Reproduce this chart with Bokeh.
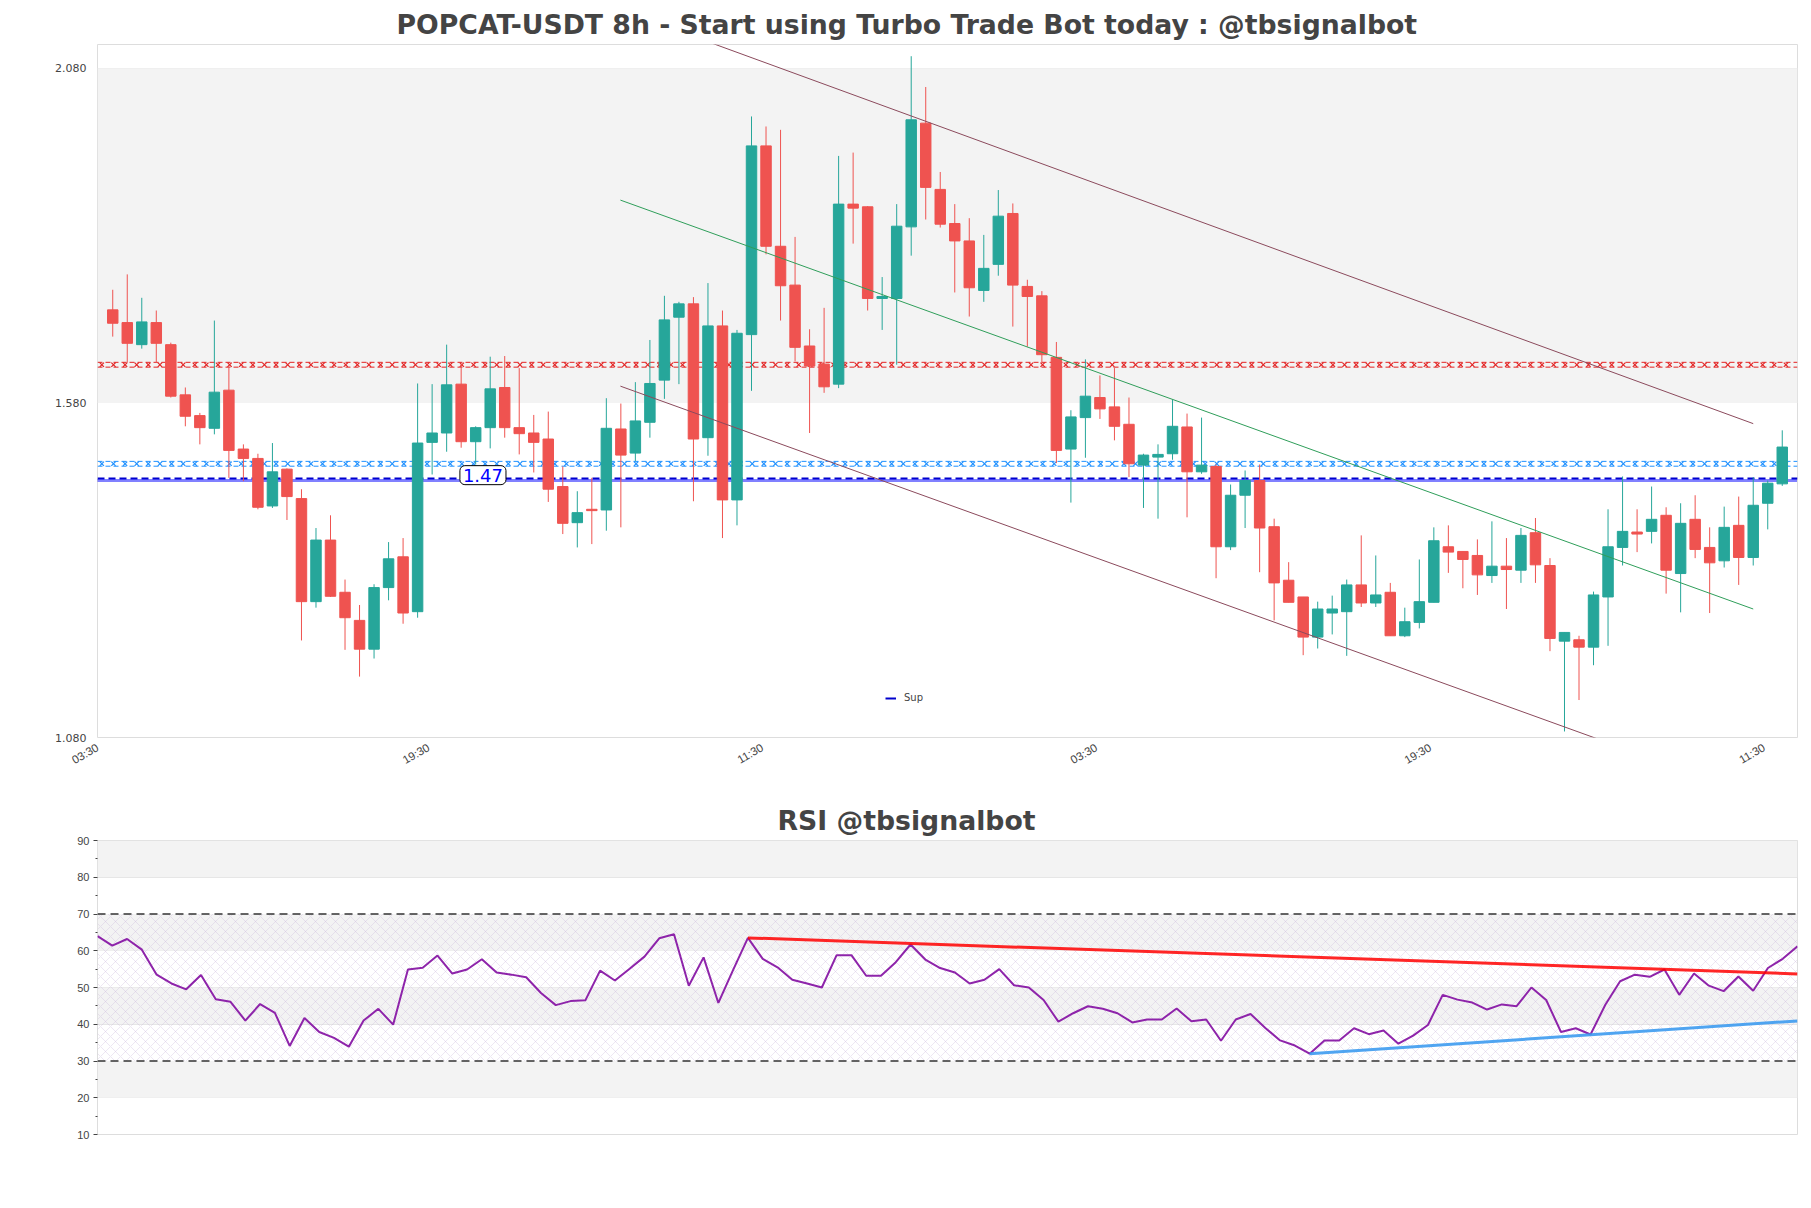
import math
import numpy as np
from bokeh.plotting import figure
from bokeh.layouts import column
from bokeh.models import (ColumnDataSource, FixedTicker, NumeralTickFormatter, BoxAnnotation,
                          Span, Arrow, Label, Legend, LegendItem, Range1d)
from bokeh.embed import file_html
from bokeh.resources import INLINE

# ---------------- data ----------------
open_ = [1.719, 1.700, 1.667, 1.700, 1.667, 1.592, 1.561, 1.542, 1.599, 1.511,
         1.497, 1.426, 1.481, 1.437, 1.283, 1.375, 1.297, 1.255, 1.212, 1.304,
         1.350, 1.268, 1.521, 1.535, 1.608, 1.522, 1.543, 1.603, 1.543, 1.535,
         1.526, 1.455, 1.401, 1.421, 1.420, 1.541, 1.505, 1.551, 1.614, 1.708,
         1.728, 1.528, 1.695, 1.435, 1.682, 1.964, 1.814, 1.756, 1.665, 1.638,
         1.608, 1.877, 1.873, 1.736, 1.736, 1.843, 1.998, 1.899, 1.848, 1.822,
         1.748, 1.787, 1.863, 1.754, 1.740, 1.648, 1.511, 1.558, 1.588, 1.574,
         1.548, 1.487, 1.499, 1.504, 1.544, 1.477, 1.485, 1.365, 1.442, 1.464,
         1.395, 1.315, 1.290, 1.230, 1.266, 1.268, 1.308, 1.281, 1.297, 1.232,
         1.252, 1.282, 1.365, 1.358, 1.352, 1.322, 1.336, 1.330, 1.386, 1.337,
         1.224, 1.226, 1.215, 1.290, 1.364, 1.387, 1.388, 1.412, 1.325, 1.406,
         1.364, 1.344, 1.397, 1.349, 1.430, 1.459]
high = [1.749, 1.772, 1.737, 1.718, 1.670, 1.603, 1.565, 1.703, 1.633, 1.518,
        1.504, 1.520, 1.482, 1.451, 1.393, 1.412, 1.316, 1.278, 1.309, 1.372,
        1.378, 1.609, 1.608, 1.667, 1.638, 1.545, 1.649, 1.650, 1.632, 1.562,
        1.567, 1.485, 1.448, 1.468, 1.587, 1.579, 1.611, 1.674, 1.740, 1.731,
        1.738, 1.759, 1.718, 1.689, 2.008, 1.993, 1.988, 1.828, 1.690, 1.722,
        1.949, 1.954, 1.874, 1.768, 1.877, 2.098, 2.052, 1.925, 1.877, 1.856,
        1.831, 1.898, 1.878, 1.764, 1.747, 1.671, 1.569, 1.645, 1.621, 1.632,
        1.588, 1.504, 1.518, 1.585, 1.564, 1.558, 1.488, 1.458, 1.479, 1.488,
        1.407, 1.342, 1.290, 1.283, 1.292, 1.316, 1.382, 1.352, 1.311, 1.274,
        1.346, 1.394, 1.397, 1.358, 1.376, 1.403, 1.378, 1.393, 1.408, 1.348,
        1.237, 1.232, 1.298, 1.421, 1.470, 1.421, 1.455, 1.424, 1.430, 1.442,
        1.394, 1.425, 1.440, 1.469, 1.464, 1.539]
low = [1.679, 1.640, 1.661, 1.640, 1.588, 1.545, 1.518, 1.533, 1.468, 1.463,
       1.421, 1.423, 1.405, 1.225, 1.274, 1.290, 1.211, 1.171, 1.198, 1.285,
       1.250, 1.259, 1.473, 1.507, 1.513, 1.488, 1.512, 1.528, 1.503, 1.476,
       1.432, 1.384, 1.364, 1.369, 1.389, 1.394, 1.493, 1.528, 1.586, 1.608,
       1.433, 1.501, 1.378, 1.397, 1.598, 1.802, 1.703, 1.642, 1.535, 1.595,
       1.602, 1.818, 1.718, 1.689, 1.637, 1.800, 1.854, 1.842, 1.745, 1.709,
       1.731, 1.770, 1.694, 1.664, 1.640, 1.490, 1.431, 1.498, 1.556, 1.524,
       1.469, 1.423, 1.407, 1.495, 1.409, 1.474, 1.318, 1.360, 1.393, 1.327,
       1.255, 1.282, 1.203, 1.213, 1.234, 1.202, 1.275, 1.275, 1.232, 1.230,
       1.243, 1.282, 1.326, 1.303, 1.293, 1.311, 1.272, 1.311, 1.311, 1.209,
       1.089, 1.136, 1.188, 1.217, 1.337, 1.357, 1.370, 1.295, 1.267, 1.348,
       1.266, 1.334, 1.308, 1.337, 1.391, 1.456]
close = [1.699, 1.669, 1.701, 1.669, 1.590, 1.560, 1.543, 1.596, 1.509, 1.497,
         1.424, 1.477, 1.440, 1.283, 1.375, 1.291, 1.259, 1.212, 1.304, 1.347,
         1.266, 1.520, 1.535, 1.607, 1.522, 1.543, 1.601, 1.543, 1.534, 1.521,
         1.451, 1.400, 1.416, 1.419, 1.542, 1.502, 1.553, 1.609, 1.704, 1.728,
         1.526, 1.695, 1.435, 1.684, 1.964, 1.814, 1.755, 1.663, 1.635, 1.604,
         1.877, 1.871, 1.736, 1.739, 1.844, 2.003, 1.902, 1.847, 1.822, 1.752,
         1.781, 1.859, 1.756, 1.739, 1.652, 1.509, 1.559, 1.590, 1.571, 1.545,
         1.489, 1.502, 1.503, 1.545, 1.477, 1.487, 1.365, 1.442, 1.464, 1.393,
         1.311, 1.282, 1.230, 1.272, 1.272, 1.308, 1.281, 1.293, 1.232, 1.253,
         1.283, 1.374, 1.357, 1.346, 1.323, 1.336, 1.331, 1.382, 1.338, 1.228,
         1.237, 1.215, 1.293, 1.365, 1.388, 1.384, 1.406, 1.330, 1.400, 1.361,
         1.341, 1.394, 1.349, 1.427, 1.460, 1.514]
rsi = [64.0, 61.4, 63.2, 60.3, 53.5, 51.1, 49.5, 53.4, 46.8, 46.1,
       41.0, 45.5, 43.1, 34.1, 41.7, 37.9, 36.3, 33.9, 41.0, 44.2,
       39.9, 54.9, 55.4, 58.7, 53.8, 54.9, 57.7, 54.1, 53.5, 52.8,
       48.5, 45.2, 46.3, 46.5, 54.6, 51.9, 55.1, 58.4, 63.4, 64.5,
       50.5, 58.2, 45.8, 54.8, 63.5, 57.8, 55.5, 52.1, 51.1, 50.0,
       58.8, 58.8, 53.2, 53.2, 56.9, 61.7, 57.6, 55.3, 54.1, 51.1,
       52.1, 55.0, 50.6, 50.0, 46.6, 40.7, 43.0, 44.9, 44.2, 43.0,
       40.5, 41.3, 41.3, 44.3, 40.8, 41.3, 35.5, 41.3, 42.8, 39.0,
       35.6, 34.2, 32.0, 35.6, 35.6, 38.9, 37.3, 38.3, 34.7, 36.9,
       39.8, 48.0, 46.7, 45.9, 44.0, 45.4, 44.9, 50.0, 46.6, 37.9,
       38.9, 37.2, 45.3, 51.7, 53.5, 52.9, 54.9, 48.0, 53.8, 50.5,
       49.0, 53.0, 49.1, 55.3, 57.8, 61.2]

time_tick_pos = [-1.04, 21.75, 44.75, 67.75, 90.75, 113.75]
time_tick_labels = ["03:30", "19:30", "11:30", "03:30", "19:30", "11:30"]
price_ticks = [1.08, 1.58, 2.08]
rsi_ticks = [10, 20, 30, 40, 50, 60, 70, 80, 90]
rsi_minor_ticks = [15, 25, 35, 45, 55, 65, 75, 85]

resistance_level = 1.637
support_zone_level = 1.489
sup_level = 1.467
sup_level_b = 1.464
sup_label = "1.47"

channel_upper_x = [37.17, 113.0]
channel_upper_y = [2.150, 1.549]
channel_lower_x = [34.97, 113.0]
channel_lower_y = [1.605, 0.994]
channel_mid_x = [34.97, 113.0]
channel_mid_y = [1.883, 1.272]

rsi_res_x = [44, 115]
rsi_res_y = [63.5, 53.7]
rsi_sup_x = [82, 115]
rsi_sup_y = [32.0, 40.9]

GREEN = "#26a69a"
RED = "#ef5350"
TXT = "#444444"
BAND = "#f3f3f3"
GRID = "#e2e2e2"

# ---------------- main chart ----------------
n = len(close)
idx = np.arange(n)
o = np.array(open_); c = np.array(close)
colors = [GREEN if cc >= oo else RED for oo, cc in zip(o, c)]
src = ColumnDataSource(dict(x=idx, o=o, h=high, l=low, c=c,
                            top=np.maximum(o, c), bot=np.minimum(o, c), col=colors))

X0, X1 = -1.05, 116.05
p = figure(width=1803, height=796, x_range=Range1d(X0, X1), y_range=Range1d(1.08, 2.1155),
           output_backend="svg", toolbar_location=None,
           min_border_left=97, min_border_right=6, min_border_top=44, min_border_bottom=59)
p.title.text = "POPCAT-USDT 8h - Start using Turbo Trade Bot today : @tbsignalbot"
p.title.align = "left"
p.title.offset = 299
p.title.text_font = "DejaVu Sans"
p.title.text_font_size = "26.7px"
p.title.text_font_style = "bold"
p.title.text_color = TXT
p.title.standoff = 10

p.outline_line_color = "#dddddd"
p.background_fill_color = "white"
p.add_layout(BoxAnnotation(bottom=1.58, top=2.08, fill_color=BAND, fill_alpha=1,
                           line_alpha=0, level="underlay"))
p.xgrid.visible = False
p.ygrid.ticker = FixedTicker(ticks=price_ticks)
p.ygrid.grid_line_color = GRID

p.yaxis.ticker = FixedTicker(ticks=price_ticks)
p.yaxis.formatter = NumeralTickFormatter(format="0.000")
p.yaxis.major_tick_line_color = None
p.yaxis.minor_tick_line_color = None
p.yaxis.axis_line_color = None
p.yaxis.major_label_text_font_size = "11px"
p.yaxis.major_label_text_color = TXT
p.yaxis.major_label_text_font = "DejaVu Sans"

p.xaxis.ticker = FixedTicker(ticks=time_tick_pos)
p.xaxis.major_label_overrides = {t: lab for t, lab in zip(time_tick_pos, time_tick_labels)}
p.xaxis.major_label_orientation = math.pi / 6
p.xaxis.major_tick_line_color = None
p.xaxis.minor_tick_line_color = None
p.xaxis.axis_line_color = None
p.xaxis.major_label_text_font_size = "11.5px"
p.xaxis.major_label_text_color = TXT
p.xaxis.major_label_standoff = 3

# horizontal levels
def x_pattern_line(level, color):
    xs = np.arange(X0 + 0.3, X1, 0.8)
    p.scatter(xs, [level] * len(xs), marker="x", size=6, line_color=color, line_width=1.2)
    d = 0.0036
    p.line([X0, X1], [level + d] * 2, line_color=color, line_width=1, line_dash="5 3")
    p.line([X0, X1], [level - d] * 2, line_color=color, line_width=1, line_dash="5 3")

x_pattern_line(resistance_level, "#e32222")
x_pattern_line(support_zone_level, "#1e90ff")
p.line([X0, X1], [sup_level] * 2, line_color="#0000cd", line_width=2, line_dash="7 4")
p.line([X0, X1], [sup_level_b] * 2, line_color="#0000ff", line_width=3, line_dash="1 1")

# candles
p.segment(x0="x", y0="l", x1="x", y1="h", line_color="col", line_width=1, source=src)
p.vbar(x="x", width=0.72, top="top", bottom="bot", fill_color="col", line_color="col",
       line_width=1, source=src)

# channel
for xs_, ys_, colr in [(channel_upper_x, channel_upper_y, "#8b4a5c"),
                       (channel_lower_x, channel_lower_y, "#8b4a5c"),
                       (channel_mid_x, channel_mid_y, "#2f9e5a")]:
    p.add_layout(Arrow(end=None, x_start=xs_[0], y_start=ys_[0], x_end=xs_[1], y_end=ys_[1],
                       line_color=colr, line_width=1))

p.add_layout(Label(x=25.5, y=1.472, text=sup_label, text_align="center", text_baseline="middle",
                   text_color="#0000ff", text_font_size="18px", text_font="DejaVu Sans",
                   background_fill_color="white", border_line_color="black",
                   border_line_width=1, padding=3, border_radius=5))

legend_sample = p.line(x=[-50, -49], y=[0.5, 0.5], line_color="#0000cd", line_width=2)
leg = Legend(items=[LegendItem(label="Sup", renderers=[legend_sample])], location=(786, 32),
             label_text_font_size="10px", label_text_font="DejaVu Sans", glyph_width=11,
             glyph_height=10, label_standoff=8, background_fill_alpha=0, border_line_alpha=0,
             padding=2, margin=0)
p.add_layout(leg)

# ---------------- RSI chart ----------------
k = np.arange(len(rsi))
p2 = figure(width=1803, height=404, x_range=Range1d(0, len(rsi) - 1), y_range=Range1d(10, 90),
            output_backend="svg", toolbar_location=None,
            min_border_left=97, min_border_right=6, min_border_top=44, min_border_bottom=66)
p2.title.text = "RSI @tbsignalbot"
p2.title.align = "left"
p2.title.offset = 680
p2.title.text_font = "DejaVu Sans"
p2.title.text_font_size = "26.7px"
p2.title.text_font_style = "bold"
p2.title.text_color = TXT
p2.title.standoff = 9
p2.outline_line_color = "#dddddd"

for b, t in [(20, 30), (40, 50), (60, 70), (80, 90)]:
    p2.add_layout(BoxAnnotation(bottom=b, top=t, fill_color=BAND, fill_alpha=1, line_alpha=0,
                                level="underlay"))
p2.add_layout(BoxAnnotation(bottom=30, top=70, fill_alpha=0, line_alpha=0,
                            hatch_pattern="diagonal_cross", hatch_color="#c9b3d9",
                            hatch_alpha=0.55, hatch_scale=10, hatch_weight=0.6, level="underlay"))
p2.xgrid.visible = False
p2.ygrid.ticker = FixedTicker(ticks=rsi_ticks)
p2.ygrid.grid_line_color = GRID
for lv in (30, 70):
    p2.add_layout(Span(location=lv, dimension="width", line_color="#333333", line_width=1.3,
                       line_dash="8 5"))

p2.line(k, rsi, line_color="#8e24aa", line_width=2)
p2.line(rsi_res_x, rsi_res_y, line_color="#ff0000", line_alpha=0.85, line_width=3)
p2.line(rsi_sup_x, rsi_sup_y, line_color="#3d9bf0", line_alpha=0.9, line_width=3)

p2.xaxis.visible = False
p2.yaxis.ticker = FixedTicker(ticks=rsi_ticks, minor_ticks=rsi_minor_ticks)
p2.yaxis.axis_line_color = None
p2.yaxis.major_tick_out = 4
p2.yaxis.major_tick_in = 0
p2.yaxis.minor_tick_out = 2
p2.yaxis.minor_tick_in = 0
p2.yaxis.major_tick_line_color = TXT
p2.yaxis.minor_tick_line_color = TXT
p2.yaxis.major_label_text_font_size = "11px"
p2.yaxis.major_label_text_color = TXT
p2.yaxis.major_label_standoff = 4

layout = column(p, p2)
open("out.html", "w").write(file_html(layout, INLINE))
